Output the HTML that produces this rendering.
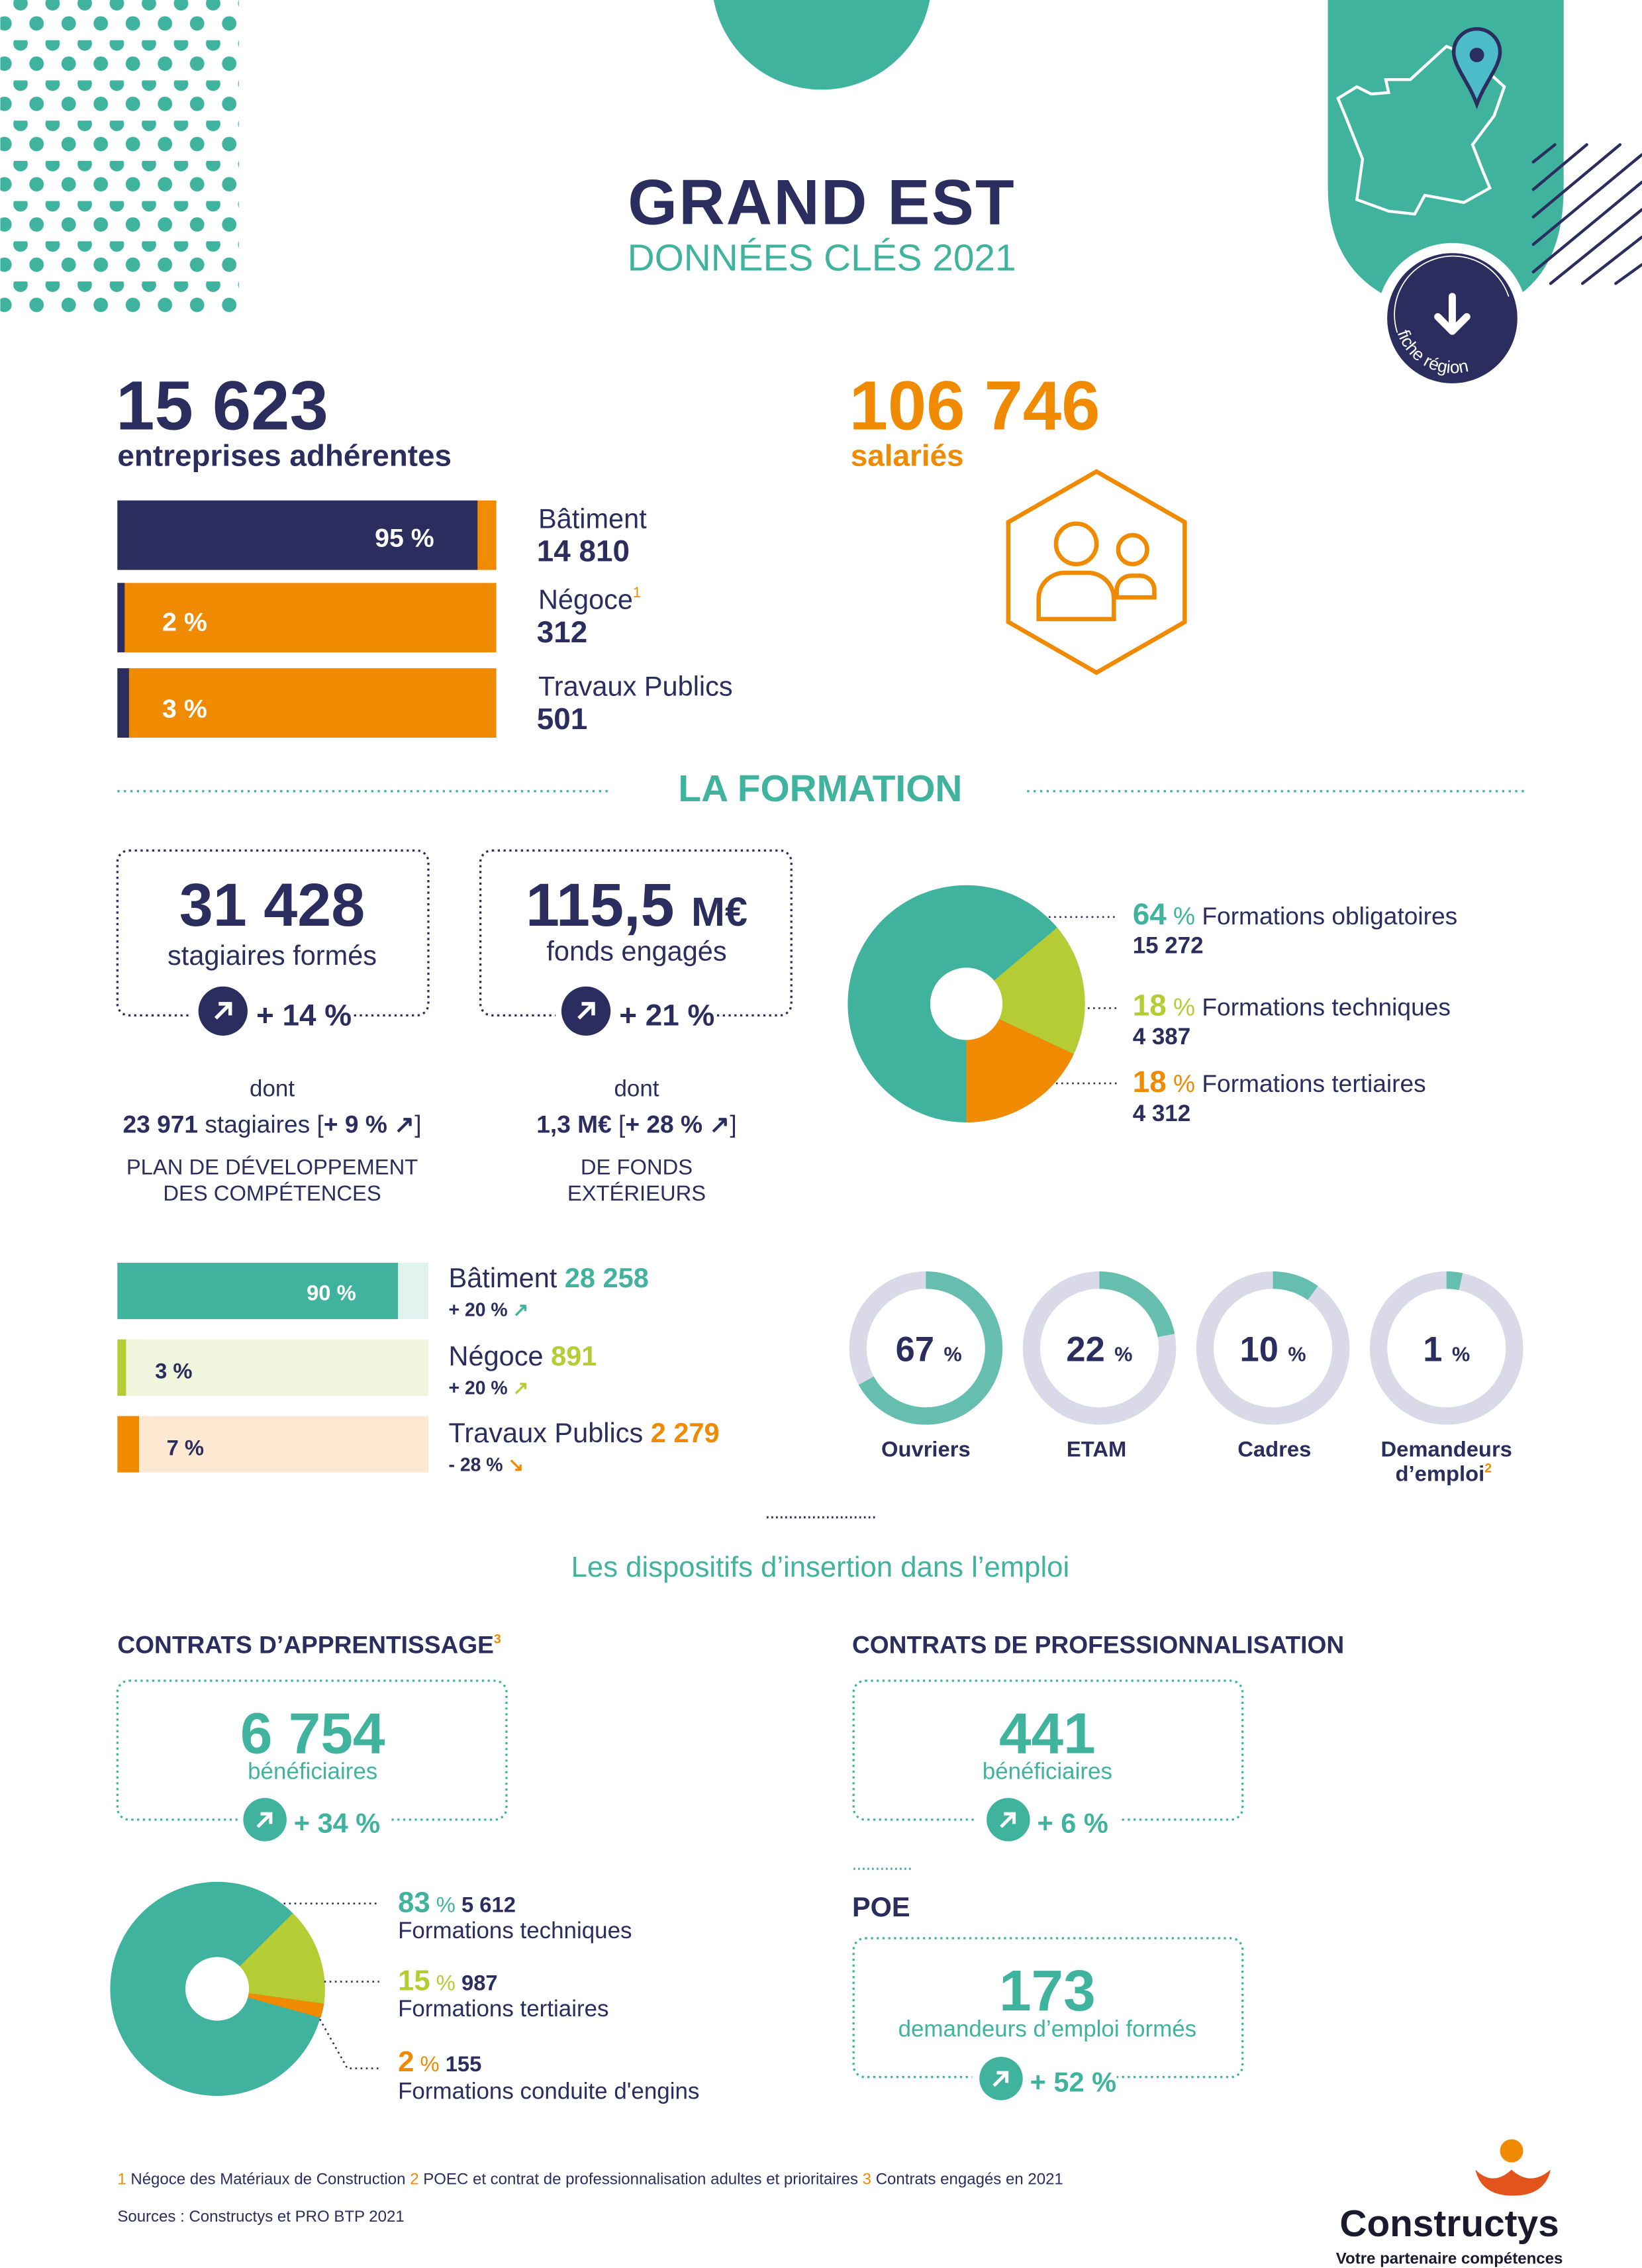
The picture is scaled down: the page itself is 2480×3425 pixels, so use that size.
<!DOCTYPE html>
<html><head><meta charset="utf-8"><style>
html,body{margin:0;padding:0;background:#fff}
svg{display:block}
text{font-family:"Liberation Sans",sans-serif}
</style></head><body>
<svg width="2480" height="3425" viewBox="0 0 1135 1568" xmlns="http://www.w3.org/2000/svg">
<defs>
<pattern id="dots" x="0" y="0" width="22.2" height="27.8" patternUnits="userSpaceOnUse">
<circle cx="14" cy="2.3" r="5" fill="#40b39f"/>
<circle cx="2.9" cy="16.2" r="5" fill="#40b39f"/>
<circle cx="25.1" cy="16.2" r="5" fill="#40b39f"/>
</pattern>
<path id="arc" d="M966 230 A40 40 0 0 0 1043 205"/>
</defs>
<rect x="0" y="-4" width="165" height="220" fill="url(#dots)"/>
<circle cx="568" cy="-14" r="76" fill="#40b39f"/>
<path d="M918 0 H1081 V130 Q1081 190 1040 210 L970 210 Q918 190 918 130 Z" fill="#40b39f"/>
<g stroke="#2b2d5e" stroke-width="2" stroke-linecap="round">
<line x1="1060" y1="112" x2="1075" y2="100"/><line x1="1060" y1="131" x2="1097" y2="100"/>
<line x1="1060" y1="150" x2="1120" y2="100"/><line x1="1060" y1="169" x2="1135" y2="107"/>
<line x1="1060" y1="188" x2="1135" y2="126"/><line x1="1072" y1="196" x2="1135" y2="145"/>
<line x1="1094" y1="196" x2="1135" y2="164"/><line x1="1117" y1="196" x2="1135" y2="183"/>
</g>
<path d="M925 68 L938 60 L948 65 L960 64 L958 55 L975 55 L1000 32 L1018 40 L1040 60 L1033 80 L1018 100 L1025 118 L1030 130 L1012 140 L985 135 L978 148 L960 146 L938 138 L942 110 L930 80 Z" fill="none" stroke="#fff" stroke-width="2"/>
<path d="M1021 20 a16 16 0 0 1 16 16 c0 10 -10 20 -16 36 c-6 -16 -16 -26 -16 -36 a16 16 0 0 1 16 -16z" fill="#4cbcc8" stroke="#2b2d5e" stroke-width="2.5"/>
<circle cx="1021" cy="38" r="5" fill="#2b2d5e"/>
<circle cx="1004" cy="220" r="52" fill="#fff"/>
<circle cx="1004" cy="220" r="45" fill="#2b2d5e"/>
<path d="M966 230 A40 40 0 1 1 1043 205" fill="none" stroke="#fff" stroke-width="0.8"/>
<path d="M1004 205 v22 M994 219 l10 10 l10 -10" stroke="#fff" stroke-width="5" fill="none" stroke-linecap="round" stroke-linejoin="round"/>
<text font-size="12" fill="#fff"><textPath href="#arc">fiche région</textPath></text>

<text x="568" y="155" font-size="44" font-weight="bold" fill="#2b2d5e" text-anchor="middle" letter-spacing="1">GRAND EST</text>
<text x="568" y="187" font-size="26" fill="#40b39f" text-anchor="middle">DONNÉES CLÉS 2021</text>

<text x="80" y="297" font-size="48" font-weight="bold" fill="#2b2d5e">15 623</text>
<text x="81" y="322" font-size="21" font-weight="bold" fill="#2b2d5e">entreprises adhérentes</text>
<text x="587" y="297" font-size="48" font-weight="bold" fill="#f08a00">106 746</text>
<text x="588" y="322" font-size="21" font-weight="bold" fill="#f08a00">salariés</text>

<rect x="81" y="346" width="262" height="48" fill="#f08a00"/><rect x="81" y="346" width="249" height="48" fill="#2b2d5e"/>
<text x="300" y="378" font-size="18" font-weight="bold" fill="#fff" text-anchor="end">95 %</text>
<rect x="81" y="403" width="262" height="48" fill="#f08a00"/><rect x="81" y="403" width="5" height="48" fill="#2b2d5e"/>
<text x="112" y="436" font-size="18" font-weight="bold" fill="#fff">2 %</text>
<rect x="81" y="462" width="262" height="48" fill="#f08a00"/><rect x="81" y="462" width="8" height="48" fill="#2b2d5e"/>
<text x="112" y="496" font-size="18" font-weight="bold" fill="#fff">3 %</text>
<g fill="#2b2d5e">
<text x="372" y="365" font-size="19">Bâtiment</text><text x="371" y="388" font-size="21" font-weight="bold">14 810</text>
<text x="372" y="421" font-size="19">Négoce<tspan fill="#f08a00" font-size="10" dy="-8">1</tspan></text><text x="371" y="444" font-size="21" font-weight="bold">312</text>
<text x="372" y="481" font-size="19">Travaux Publics</text><text x="371" y="504" font-size="21" font-weight="bold">501</text>
</g>
<polygon points="758,326 819,361 819,430 758,465 697,430 697,361" fill="none" stroke="#f08a00" stroke-width="3"/>
<g fill="none" stroke="#f08a00" stroke-width="3">
<circle cx="744" cy="376" r="14"/><path d="M718 428 v-14 a18 18 0 0 1 18 -18 h16 a18 18 0 0 1 18 18 v14 z"/>
<circle cx="783" cy="380" r="10"/><path d="M772 413 v-5 a10 10 0 0 1 10 -10 h6 a10 10 0 0 1 10 10 v5 z"/>
</g>

<line x1="81" y1="547" x2="420" y2="547" stroke="#40b39f" stroke-width="1.5" stroke-dasharray="1.5 3"/>
<line x1="710" y1="547" x2="1055" y2="547" stroke="#40b39f" stroke-width="1.5" stroke-dasharray="1.5 3"/>
<text x="567" y="554" font-size="26" font-weight="bold" fill="#40b39f" text-anchor="middle">LA FORMATION</text>

<g fill="none" stroke="#2b2d5e" stroke-width="1.5" stroke-dasharray="1.5 2.5">
<rect x="81" y="588" width="215" height="114" rx="8"/><rect x="332" y="588" width="215" height="114" rx="8"/>
</g>
<rect x="132" y="690" width="110" height="24" fill="#fff"/><rect x="384" y="690" width="110" height="24" fill="#fff"/>
<text x="188" y="640" font-size="42" font-weight="bold" fill="#2b2d5e" text-anchor="middle">31 428</text>
<text x="188" y="667" font-size="19" fill="#2b2d5e" text-anchor="middle">stagiaires formés</text>
<text x="440" y="640" font-size="42" font-weight="bold" fill="#2b2d5e" text-anchor="middle">115,5 <tspan font-size="28">M€</tspan></text>
<text x="440" y="664" font-size="19" fill="#2b2d5e" text-anchor="middle">fonds engagés</text>
<circle cx="154" cy="699" r="17" fill="#2b2d5e"/><path d="M149 704 l10 -10 M151 694 h8 v8" stroke="#fff" stroke-width="2.5" fill="none"/>
<text x="177" y="709" font-size="21" font-weight="bold" fill="#2b2d5e">+ 14 %</text>
<circle cx="405" cy="699" r="17" fill="#2b2d5e"/><path d="M400 704 l10 -10 M402 694 h8 v8" stroke="#fff" stroke-width="2.5" fill="none"/>
<text x="428" y="709" font-size="21" font-weight="bold" fill="#2b2d5e">+ 21 %</text>
<g fill="#2b2d5e" text-anchor="middle">
<text x="188" y="758" font-size="16">dont</text>
<text x="188" y="783" font-size="17"><tspan font-weight="bold">23 971</tspan> stagiaires [<tspan font-weight="bold">+ 9 % ↗</tspan>]</text>
<text x="188" y="812" font-size="15">PLAN DE DÉVELOPPEMENT</text><text x="188" y="830" font-size="15">DES COMPÉTENCES</text>
<text x="440" y="758" font-size="16">dont</text>
<text x="440" y="783" font-size="17"><tspan font-weight="bold">1,3 M€</tspan> [<tspan font-weight="bold">+ 28 % ↗</tspan>]</text>
<text x="440" y="812" font-size="15">DE FONDS</text><text x="440" y="830" font-size="15">EXTÉRIEURS</text>
</g>

<circle cx="668" cy="694" r="82" fill="#40b39f"/>
<path d="M668 694 L730.8 641.3 A82 82 0 0 1 742.3 728.7 Z" fill="#b5cc34"/>
<path d="M668 694 L742.3 728.7 A82 82 0 0 1 668 776 Z" fill="#f08a00"/>
<circle cx="668" cy="694" r="25" fill="#fff"/>
<g stroke="#2b2d5e" stroke-width="1.2" stroke-dasharray="1.2 2.5">
<line x1="725" y1="634" x2="772" y2="634"/><line x1="752" y1="697" x2="772" y2="697"/><line x1="730" y1="749" x2="772" y2="749"/></g>
<text x="783" y="639" font-size="17" fill="#2b2d5e"><tspan fill="#40b39f" font-weight="bold" font-size="21">64</tspan><tspan fill="#40b39f"> % </tspan>Formations obligatoires</text>
<text x="783" y="659" font-size="16" font-weight="bold" fill="#2b2d5e">15 272</text>
<text x="783" y="702" font-size="17" fill="#2b2d5e"><tspan fill="#b5cc34" font-weight="bold" font-size="21">18</tspan><tspan fill="#b5cc34"> % </tspan>Formations techniques</text>
<text x="783" y="722" font-size="16" font-weight="bold" fill="#2b2d5e">4 387</text>
<text x="783" y="755" font-size="17" fill="#2b2d5e"><tspan fill="#f08a00" font-weight="bold" font-size="21">18</tspan><tspan fill="#f08a00"> % </tspan>Formations tertiaires</text>
<text x="783" y="775" font-size="16" font-weight="bold" fill="#2b2d5e">4 312</text>

<rect x="81" y="873" width="215" height="39" fill="#e1f3ef"/><rect x="81" y="873" width="194" height="39" fill="#40b39f"/>
<text x="246" y="899" font-size="15" font-weight="bold" fill="#fff" text-anchor="end">90 %</text>
<rect x="81" y="926" width="215" height="39" fill="#f1f5de"/><rect x="81" y="926" width="6" height="39" fill="#b5cc34"/>
<text x="107" y="953" font-size="15" font-weight="bold" fill="#2b2d5e">3 %</text>
<rect x="81" y="979" width="215" height="39" fill="#fde8d2"/><rect x="81" y="979" width="15" height="39" fill="#f08a00"/>
<text x="115" y="1006" font-size="15" font-weight="bold" fill="#2b2d5e">7 %</text>
<text x="310" y="890" font-size="19" fill="#2b2d5e">Bâtiment <tspan fill="#40b39f" font-weight="bold">28 258</tspan></text>
<text x="310" y="910" font-size="13" font-weight="bold" fill="#2b2d5e">+ 20 % <tspan fill="#40b39f">↗</tspan></text>
<text x="310" y="944" font-size="19" fill="#2b2d5e">Négoce <tspan fill="#b5cc34" font-weight="bold">891</tspan></text>
<text x="310" y="964" font-size="13" font-weight="bold" fill="#2b2d5e">+ 20 % <tspan fill="#b5cc34">↗</tspan></text>
<text x="310" y="997" font-size="19" fill="#2b2d5e">Travaux Publics <tspan fill="#f08a00" font-weight="bold">2 279</tspan></text>
<text x="310" y="1017" font-size="13" font-weight="bold" fill="#2b2d5e">- 28 % <tspan fill="#f08a00">↘</tspan></text>

<g fill="none" stroke-width="12">
<circle cx="640" cy="932" r="47" stroke="#d9d9e8"/><circle cx="640" cy="932" r="47" stroke="#66bfae" stroke-dasharray="197.9 295.3" transform="rotate(-90 640 932)"/>
<circle cx="760" cy="932" r="47" stroke="#d9d9e8"/><circle cx="760" cy="932" r="47" stroke="#66bfae" stroke-dasharray="65 295.3" transform="rotate(-90 760 932)"/>
<circle cx="880" cy="932" r="47" stroke="#d9d9e8"/><circle cx="880" cy="932" r="47" stroke="#66bfae" stroke-dasharray="29.5 295.3" transform="rotate(-90 880 932)"/>
<circle cx="1000" cy="932" r="47" stroke="#d9d9e8"/><circle cx="1000" cy="932" r="47" stroke="#66bfae" stroke-dasharray="10 295.3" transform="rotate(-90 1000 932)"/>
</g>
<g fill="#2b2d5e" text-anchor="middle" font-weight="bold">
<text x="642" y="941" font-size="24">67 <tspan font-size="14">%</tspan></text>
<text x="760" y="941" font-size="24">22 <tspan font-size="14">%</tspan></text>
<text x="880" y="941" font-size="24">10 <tspan font-size="14">%</tspan></text>
<text x="1000" y="941" font-size="24">1 <tspan font-size="14">%</tspan></text>
<text x="640" y="1007" font-size="15">Ouvriers</text>
<text x="758" y="1007" font-size="15">ETAM</text>
<text x="881" y="1007" font-size="15">Cadres</text>
<text x="1000" y="1007" font-size="15">Demandeurs</text>
<text x="998" y="1024" font-size="15">d’emploi<tspan fill="#f08a00" font-size="9" dy="-6">2</tspan></text>
</g>

<line x1="530" y1="1049" x2="605" y2="1049" stroke="#2b2d5e" stroke-width="1.5" stroke-dasharray="1.2 2"/>
<text x="567" y="1090" font-size="20" fill="#40b39f" text-anchor="middle">Les dispositifs d’insertion dans l’emploi</text>

<text x="81" y="1143" font-size="17" font-weight="bold" fill="#2b2d5e">CONTRATS D’APPRENTISSAGE<tspan fill="#f08a00" font-size="9" dy="-7">3</tspan></text>
<text x="589" y="1143" font-size="17" font-weight="bold" fill="#2b2d5e">CONTRATS DE PROFESSIONNALISATION</text>
<g fill="none" stroke="#40b39f" stroke-width="1.5" stroke-dasharray="1.5 2.5">
<rect x="81" y="1162" width="269" height="96" rx="8"/><rect x="590" y="1162" width="269" height="96" rx="8"/>
<rect x="590" y="1340" width="269" height="96" rx="8"/></g>
<rect x="165" y="1245" width="105" height="26" fill="#fff"/><rect x="675" y="1245" width="100" height="26" fill="#fff"/><rect x="672" y="1424" width="100" height="26" fill="#fff"/>
<text x="216" y="1212" font-size="40" font-weight="bold" fill="#40b39f" text-anchor="middle">6 754</text>
<text x="216" y="1230" font-size="16" fill="#40b39f" text-anchor="middle">bénéficiaires</text>
<text x="724" y="1212" font-size="40" font-weight="bold" fill="#40b39f" text-anchor="middle">441</text>
<text x="724" y="1230" font-size="16" fill="#40b39f" text-anchor="middle">bénéficiaires</text>
<circle cx="183" cy="1258" r="15" fill="#40b39f"/><path d="M178 1263 l9 -9 M180 1254 h7 v7" stroke="#fff" stroke-width="2.3" fill="none"/>
<text x="203" y="1267" font-size="19" font-weight="bold" fill="#40b39f">+ 34 %</text>
<circle cx="697" cy="1258" r="15" fill="#40b39f"/><path d="M692 1263 l9 -9 M694 1254 h7 v7" stroke="#fff" stroke-width="2.3" fill="none"/>
<text x="717" y="1267" font-size="19" font-weight="bold" fill="#40b39f">+ 6 %</text>
<line x1="590" y1="1292" x2="630" y2="1292" stroke="#40b39f" stroke-width="1.5" stroke-dasharray="1.2 2"/>
<text x="589" y="1325" font-size="19" font-weight="bold" fill="#2b2d5e">POE</text>
<text x="724" y="1390" font-size="40" font-weight="bold" fill="#40b39f" text-anchor="middle">173</text>
<text x="724" y="1408" font-size="16" fill="#40b39f" text-anchor="middle">demandeurs d’emploi formés</text>
<circle cx="692" cy="1437" r="15" fill="#40b39f"/><path d="M687 1442 l9 -9 M689 1433 h7 v7" stroke="#fff" stroke-width="2.3" fill="none"/>
<text x="712" y="1446" font-size="19" font-weight="bold" fill="#40b39f">+ 52 %</text>

<circle cx="150" cy="1375" r="74" fill="#40b39f"/>
<path d="M150 1375 L202.3 1322.7 A74 74 0 0 1 223.9 1385.3 Z" fill="#b5cc34"/>
<path d="M150 1375 L223.9 1385.3 A74 74 0 0 1 221.6 1395 Z" fill="#f08a00"/>
<circle cx="150" cy="1375" r="22" fill="#fff"/>
<g stroke="#2b2d5e" stroke-width="1.2" stroke-dasharray="1.2 2.5" fill="none">
<line x1="196" y1="1316" x2="262" y2="1316"/><line x1="224" y1="1370" x2="262" y2="1370"/><polyline points="221,1396 240,1430 262,1430"/></g>
<text x="275" y="1322" font-size="15" font-weight="bold" fill="#2b2d5e"><tspan fill="#40b39f" font-size="20">83</tspan><tspan fill="#40b39f" font-weight="normal"> % </tspan> 5 612</text>
<text x="275" y="1340" font-size="16" fill="#2b2d5e">Formations techniques</text>
<text x="275" y="1376" font-size="15" font-weight="bold" fill="#2b2d5e"><tspan fill="#b5cc34" font-size="20">15</tspan><tspan fill="#b5cc34" font-weight="normal"> % </tspan> 987</text>
<text x="275" y="1394" font-size="16" fill="#2b2d5e">Formations tertiaires</text>
<text x="275" y="1432" font-size="15" font-weight="bold" fill="#2b2d5e"><tspan fill="#f08a00" font-size="20">2</tspan><tspan fill="#f08a00" font-weight="normal"> % </tspan> 155</text>
<text x="275" y="1451" font-size="16" fill="#2b2d5e">Formations conduite d'engins</text>

<text x="81" y="1510" font-size="11" fill="#2b2d5e"><tspan fill="#f08a00">1</tspan> Négoce des Matériaux de Construction    <tspan fill="#f08a00">2</tspan> POEC et contrat de professionnalisation adultes et prioritaires    <tspan fill="#f08a00">3</tspan> Contrats engagés en 2021</text>
<text x="81" y="1536" font-size="11" fill="#2b2d5e">Sources : Constructys et PRO BTP 2021</text>
<circle cx="1045" cy="1487" r="8" fill="#f08a00"/>
<path d="M1020 1500 q12 12 25 0 q13 12 27 0 q-4 18 -26 18 q-22 0 -26 -18z" fill="#e2541c"/>
<text x="1002" y="1546" font-size="26" font-weight="bold" fill="#1a1a2e" text-anchor="middle">Constructys</text>
<text x="1002" y="1565" font-size="11" font-weight="bold" fill="#1a1a2e" text-anchor="middle">Votre partenaire compétences</text>
</svg>
</body></html>
